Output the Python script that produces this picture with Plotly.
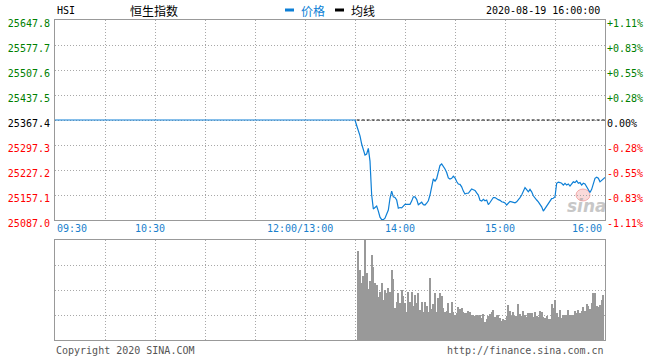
import plotly.graph_objects as go

# ---------------- data ----------------
symbol = "HSI"
title = "恒生指数"
stamp = "2020-08-19 16:00:00"
prev_close = 25367.4

# price ticks on the left axis
price_ticks = [25647.8, 25577.7, 25507.6, 25437.5, 25367.4, 25297.3, 25227.2, 25157.1, 25087.0]

# morning / early afternoon: line flat at previous close
flat_times = ["09:30", "13:30"]
flat_values = [25367.4, 25367.4]

# one price per minute from 13:31 to 16:00
price_start = "13:31"
price_values = [
    25352, 25340, 25323, 25300, 25280, 25269, 25272, 25288, 25252, 25157,
    25118, 25121, 25126, 25112, 25095, 25088, 25088, 25092, 25104, 25115,
    25148, 25168, 25152, 25150, 25143, 25120, 25122, 25121, 25126, 25131,
    25131, 25131, 25131, 25140, 25152, 25152, 25145, 25130, 25134, 25137,
    25130, 25129, 25134, 25141, 25157, 25185, 25202, 25196, 25203, 25222,
    25240, 25244, 25238, 25230, 25220, 25205, 25202, 25204, 25210, 25205,
    25195, 25188, 25187, 25180, 25168, 25160, 25162, 25162, 25168, 25174,
    25172, 25170, 25163, 25157, 25142, 25140, 25145, 25141, 25143, 25130,
    25136, 25143, 25150, 25150, 25146, 25144, 25142, 25138, 25137, 25135,
    25129, 25135, 25139, 25138, 25136, 25135, 25138, 25146, 25150, 25157,
    25168, 25178, 25172, 25166, 25173, 25166, 25155, 25148, 25143, 25138,
    25132, 25124, 25112, 25119, 25128, 25135, 25143, 25147, 25148, 25152,
    25190, 25193, 25192, 25190, 25185, 25190, 25185, 25188, 25182, 25190,
    25194, 25192, 25197, 25190, 25192, 25185, 25190, 25188, 25180, 25173,
    25164, 25173, 25190, 25204, 25207, 25204, 25194, 25199, 25204, 25206,
]

# 均线 (average line)
avg_times = ["13:31", "16:00"]
avg_values = [25367.4, 25367.4]

# volume, one bar per minute from 13:32 (relative units, panel top = 100)
vol_start = "13:32"
vol_values = [
    89, 70, 57, 64, 130, 67, 51, 59, 85,
    73, 57, 55, 43, 48, 57, 40, 50, 47,
    52, 48, 70, 61, 32, 38, 47, 37,
    50, 44, 37, 28, 48, 38, 48, 34,
    45, 37, 47, 30, 38, 28, 38, 34, 28,
    62, 31, 36, 47, 28, 42, 47, 44, 32,
    28, 29, 37, 27, 38, 28, 25, 27, 33,
    31, 32, 28, 27, 27, 29, 28, 25,
    25, 24, 25, 24, 25, 22, 26, 18, 21,
    24, 26, 28, 30, 23, 24, 25, 22,
    19, 21, 20, 24, 35, 29, 24, 28, 24,
    24, 36, 26, 24, 29, 25, 23, 27,
    27, 27, 23, 28, 24, 23, 29, 28, 23,
    22, 24, 21, 21, 36, 32, 40, 27, 23,
    30, 22, 25, 25, 25, 30, 25, 25, 25,
    29, 27, 30, 27, 29, 33, 29, 36,
    34, 31, 37, 47, 47, 34, 33, 35, 40,
    45,
]
vol_max = 100
vol_grid = [25, 50, 75]

grid_times = ["10:00", "10:30", "11:00", "11:30", "12:00", "13:30", "14:00", "14:30", "15:00", "15:30"]
label_times = ["09:30", "10:30", "12:00", "14:00", "15:00", "16:00"]
label_texts = ["09:30", "10:30", "12:00/13:00", "14:00", "15:00", "16:00"]


# ---------------- helpers ----------------
def tmin(t):
    """HH:MM -> trading minute index (09:30 = 0, lunch break removed)."""
    h, m = map(int, t.split(":"))
    mins = h * 60 + m
    if mins <= 12 * 60:
        return mins - (9 * 60 + 30)
    return 150 + mins - 13 * 60


BLUE = "#0d7fd6"
GREEN = "#008000"
RED = "#ff0000"
BORDER = "#999999"
GRID = "#a8a8a8"
MONO = "DejaVu Sans Mono"
CJK = "Noto Sans CJK SC"

p0 = tmin(price_start)
line_x = [tmin(t) for t in flat_times] + [p0 + i for i in range(len(price_values))]
line_y = flat_values + price_values

v0 = tmin(vol_start)
vol_x = [v0 + i for i in range(len(vol_values))]


def col(v):
    if abs(v - prev_close) < 1e-6:
        return "#000000"
    return GREEN if v > prev_close else RED


left_text = [f'<span style="color:{col(v)}">{v:.1f}</span>' for v in price_ticks]
right_text = []
for v in price_ticks:
    pct = (v - prev_close) / prev_close * 100
    s = "0.00%" if abs(pct) < 1e-9 else f"{pct:+.2f}%"
    right_text.append(f'<span style="color:{col(v)}">{s}</span>')

x_end = tmin("16:00")

fig = go.Figure()
fig.add_trace(go.Scatter(x=line_x, y=line_y, mode="lines",
                         line=dict(color=BLUE, width=1.2), xaxis="x", yaxis="y",
                         hoverinfo="skip", showlegend=False))
fig.add_trace(go.Scatter(x=[tmin(t) for t in avg_times], y=avg_values, mode="lines",
                         line=dict(color="#000000", width=1, dash="3px,2px"),
                         xaxis="x", yaxis="y", hoverinfo="skip", showlegend=False))
fig.add_trace(go.Scatter(x=[0], y=[prev_close], mode="markers", marker=dict(opacity=0),
                         xaxis="x", yaxis="y2", hoverinfo="skip", showlegend=False))
fig.add_trace(go.Bar(x=vol_x, y=vol_values, width=0.55,
                     marker=dict(color="#999999", line=dict(width=0)),
                     xaxis="x2", yaxis="y3", hoverinfo="skip", showlegend=False))

grid_vals = [tmin(t) for t in grid_times]
ax_common = dict(showline=True, mirror=True, linecolor=BORDER, linewidth=1, automargin=False,
                 zeroline=False, showgrid=True, gridcolor=GRID, griddash="1px,2px", gridwidth=1)

fig.update_layout(
    width=660, height=360,
    margin=dict(l=55, r=55, t=20, b=20, autoexpand=False),
    paper_bgcolor="white", plot_bgcolor="white",
    bargap=0,
    xaxis=dict(domain=[0, 1], range=[0, x_end], anchor="y", tickvals=grid_vals,
               showticklabels=False, ticks="", **ax_common),
    yaxis=dict(domain=[0.375, 1], range=[price_ticks[-1], price_ticks[0]], anchor="x",
               tickvals=price_ticks, ticktext=left_text, ticks="",
               tickfont=dict(family=MONO, size=10), ticklabelshift=3, ticklabelstandoff=2,
               **ax_common),
    yaxis2=dict(overlaying="y", side="right", anchor="x", automargin=False,
                range=[price_ticks[-1], price_ticks[0]], tickvals=price_ticks,
                ticktext=right_text, ticks="", showgrid=False, zeroline=False,
                showline=False, tickfont=dict(family=MONO, size=10),
                ticklabelshift=3, ticklabelstandoff=1),
    xaxis2=dict(domain=[0, 1], range=[0, x_end], anchor="y3", tickvals=grid_vals,
                showticklabels=False, ticks="", **ax_common),
    yaxis3=dict(domain=[0, 0.3125], range=[0, vol_max], anchor="x2", tickvals=vol_grid,
                showticklabels=False, ticks="", **ax_common),
)


def px(xp):
    return (xp - 55) / 550.0


def py(yp):
    return (340 - yp) / 320.0


ann = []
# time labels under the price panel
for t, txt in zip(label_times, label_texts):
    m = tmin(t)
    if m == 0:
        anchor, shift = "left", 0
    elif m == x_end:
        anchor, shift = "right", -1
    else:
        anchor, shift = "center", -5
    ann.append(dict(x=m, y=py(221), xref="x", yref="paper", text=txt, showarrow=False,
                    xanchor=anchor, yanchor="top", xshift=shift,
                    font=dict(family=MONO, size=10, color="#1a7fcc")))

# header
ann.append(dict(x=px(55), y=py(10), xref="paper", yref="paper", text=symbol, showarrow=False,
                xanchor="left", yanchor="middle", font=dict(family=MONO, size=10, color="#000")))
ann.append(dict(x=px(154), y=py(10), xref="paper", yref="paper", text=title, showarrow=False,
                xanchor="center", yanchor="middle", font=dict(family=CJK, size=12, color="#000")))
ann.append(dict(x=px(299), y=py(10), xref="paper", yref="paper", text="价格", showarrow=False,
                xanchor="left", yanchor="middle", font=dict(family=CJK, size=12, color=BLUE)))
ann.append(dict(x=px(349), y=py(10), xref="paper", yref="paper", text="均线", showarrow=False,
                xanchor="left", yanchor="middle", font=dict(family=CJK, size=12, color="#000")))
ann.append(dict(x=px(602), y=py(10), xref="paper", yref="paper", text=stamp, showarrow=False,
                xanchor="right", yanchor="middle", font=dict(family=MONO, size=10, color="#000")))
# footer
ann.append(dict(x=px(54), y=py(350), xref="paper", yref="paper", text="Copyright 2020 SINA.COM",
                showarrow=False, xanchor="left", yanchor="middle",
                font=dict(family=MONO, size=10, color="#555")))
ann.append(dict(x=px(606), y=py(350), xref="paper", yref="paper", text="http://finance.sina.com.cn",
                showarrow=False, xanchor="right", yanchor="middle",
                font=dict(family=MONO, size=10, color="#555")))
# watermark
ann.append(dict(x=px(587), y=py(206), xref="paper", yref="paper", text="<b><i>sina</i></b>",
                showarrow=False, xanchor="center", yanchor="middle", opacity=0.55,
                font=dict(family="DejaVu Sans", size=17, color="#9a9a9a")))
fig.update_layout(annotations=ann)

shapes = [
    # legend markers
    dict(type="rect", xref="paper", yref="paper", x0=px(285), x1=px(294), y0=py(11.5), y1=py(8.5),
         fillcolor=BLUE, line=dict(width=0)),
    dict(type="rect", xref="paper", yref="paper", x0=px(335), x1=px(344), y0=py(11.5), y1=py(8.5),
         fillcolor="#000", line=dict(width=0)),
    # watermark logo
    dict(type="circle", xref="paper", yref="paper", x0=px(576), x1=px(590), y0=py(201), y1=py(189),
         fillcolor="rgba(240,150,150,0.35)", line=dict(color="rgba(235,110,110,0.5)", width=1),
         layer="below"),
]
fig.update_layout(shapes=shapes)

fig.write_html("out.html", config={"displayModeBar": False},
               post_script="document.body.style.margin='0px';")
